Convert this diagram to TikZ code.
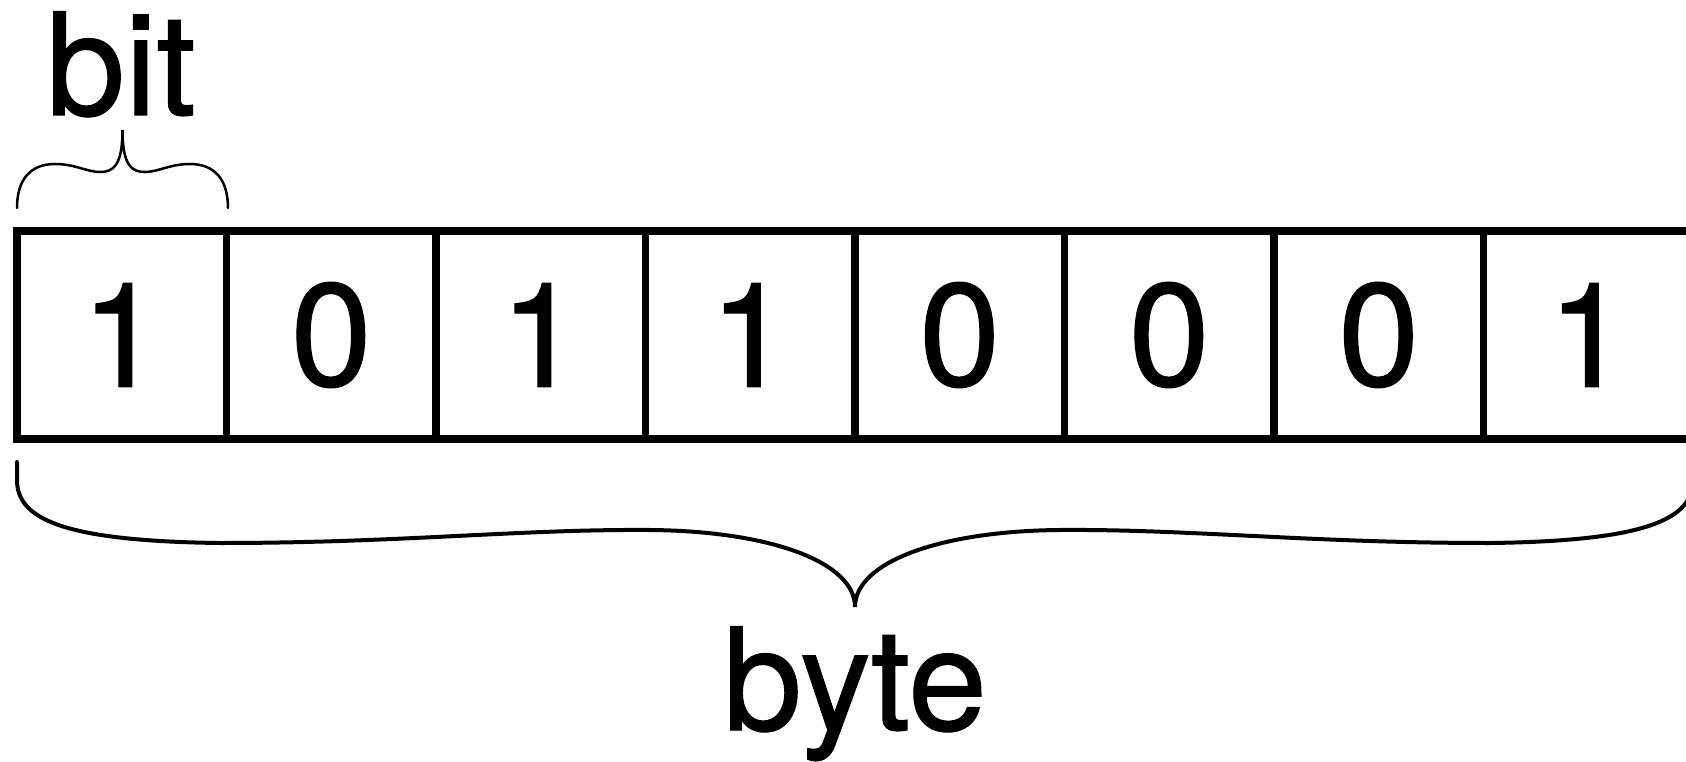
\documentclass[tikz,border=0pt]{standalone}
\usepackage{fontspec}
\setmainfont[FakeBold=0.8]{TeX Gyre Heros}
\begin{document}
\begin{tikzpicture}[x=1pt,y=-1pt,
  cell/.style={draw, line width=7.5pt, minimum width=209.5pt, minimum height=208pt,
    inner sep=0pt, outer sep=0pt, anchor=north west, font=\fontsize{146}{170}\selectfont},
  lbl/.style={anchor=base, inner sep=0pt, font=\fontsize{142}{170}\selectfont},
  bitbrace/.style={line width=2.5pt, line cap=round},
  bytebrace/.style={line width=4pt, line cap=round}]
\useasboundingbox (0,0) rectangle (1686,762);
\fill[white] (0,0) rectangle (1686,762);
\begin{scope}
\clip (0,0) rectangle (1686,762);
\foreach \d [count=\i from 0] in {1,0,1,1,0,0,0,1}
  \node[cell] (c\i) at ({17+209.5*\i},231) {\d};
% bit brace
\coordinate (bl) at (17,208);
\coordinate (br) at (228,208);
\draw[bitbrace] (bl) .. controls (17,180) and (30,164) .. (55,164)
  .. controls (75,164) and (87,172) .. (100,172)
  .. controls (113,172) and (122.5,166) .. (122.5,130)
  .. controls (122.5,166) and (132,172) .. (145,172)
  .. controls (158,172) and (170,164) .. (190,164)
  .. controls (215,164) and (228,180) .. (br);
% byte brace
\coordinate (yl) at (17,462);
\coordinate (yr) at (1693,462);
\draw[bytebrace] (yl) -- (17,480)
  .. controls (17,518) and (60,541) .. (220,543)
  .. controls (400,543) and (520,529) .. (650,530)
  .. controls (770,531) and (855,562) .. (855,607)
  .. controls (855,562) and (940,531) .. (1060,530)
  .. controls (1190,529) and (1310,543) .. (1490,543)
  .. controls (1650,541) and (1693,518) .. (1693,480) -- (yr);
\end{scope}
\node[lbl] (bit) at (121,115) {bit};
\node[lbl] (byte) at (855,730) {byte};
\end{tikzpicture}
\end{document}
